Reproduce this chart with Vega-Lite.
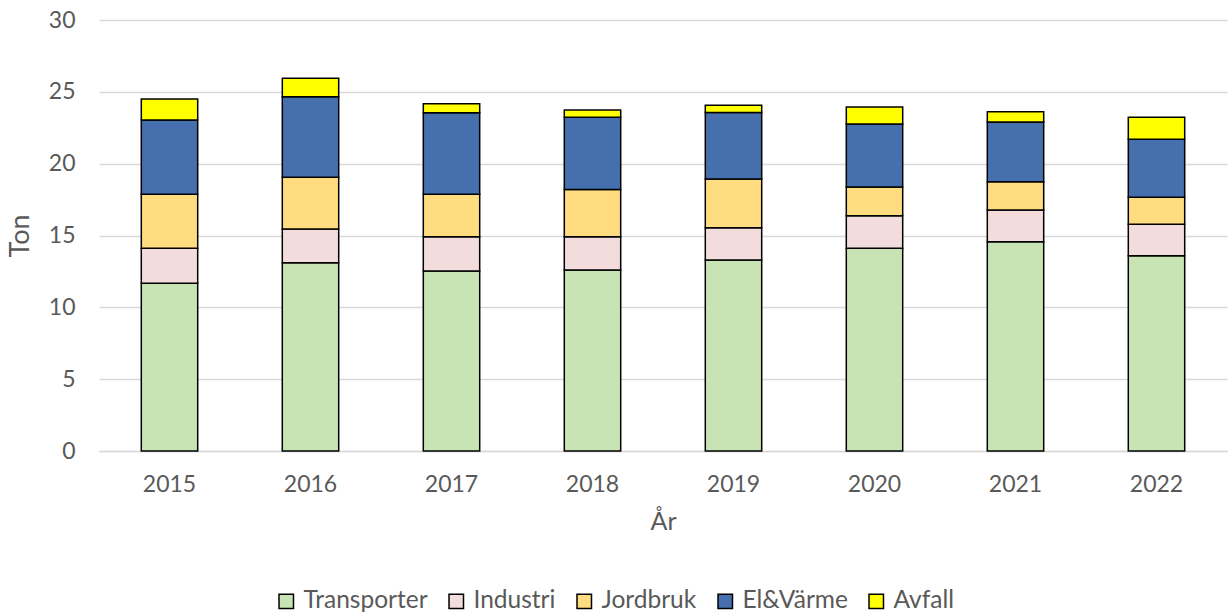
{
  "$schema": "https://vega.github.io/schema/vega-lite/v6.json",
  "width": 1128,
  "height": 431,
  "autosize": {"type": "none"},
  "padding": {"left": 99, "top": 20, "right": 1, "bottom": 163},
  "background": "white",
  "config": {
    "font": "Lato",
    "view": {"stroke": null}
  },
  "data": {
    "values": [
      {"year": "2015", "sector": "Transporter", "value": 11.67},
      {"year": "2015", "sector": "Industri", "value": 2.44},
      {"year": "2015", "sector": "Jordbruk", "value": 3.76},
      {"year": "2015", "sector": "El&Värme", "value": 5.17},
      {"year": "2015", "sector": "Avfall", "value": 1.46},
      {"year": "2016", "sector": "Transporter", "value": 13.11},
      {"year": "2016", "sector": "Industri", "value": 2.34},
      {"year": "2016", "sector": "Jordbruk", "value": 3.6},
      {"year": "2016", "sector": "El&Värme", "value": 5.61},
      {"year": "2016", "sector": "Avfall", "value": 1.28},
      {"year": "2017", "sector": "Transporter", "value": 12.53},
      {"year": "2017", "sector": "Industri", "value": 2.39},
      {"year": "2017", "sector": "Jordbruk", "value": 2.95},
      {"year": "2017", "sector": "El&Värme", "value": 5.68},
      {"year": "2017", "sector": "Avfall", "value": 0.62},
      {"year": "2018", "sector": "Transporter", "value": 12.6},
      {"year": "2018", "sector": "Industri", "value": 2.32},
      {"year": "2018", "sector": "Jordbruk", "value": 3.29},
      {"year": "2018", "sector": "El&Värme", "value": 5.02},
      {"year": "2018", "sector": "Avfall", "value": 0.51},
      {"year": "2019", "sector": "Transporter", "value": 13.29},
      {"year": "2019", "sector": "Industri", "value": 2.25},
      {"year": "2019", "sector": "Jordbruk", "value": 3.39},
      {"year": "2019", "sector": "El&Värme", "value": 4.64},
      {"year": "2019", "sector": "Avfall", "value": 0.49},
      {"year": "2020", "sector": "Transporter", "value": 14.11},
      {"year": "2020", "sector": "Industri", "value": 2.27},
      {"year": "2020", "sector": "Jordbruk", "value": 2.0},
      {"year": "2020", "sector": "El&Värme", "value": 4.38},
      {"year": "2020", "sector": "Avfall", "value": 1.18},
      {"year": "2021", "sector": "Transporter", "value": 14.57},
      {"year": "2021", "sector": "Industri", "value": 2.2},
      {"year": "2021", "sector": "Jordbruk", "value": 1.97},
      {"year": "2021", "sector": "El&Värme", "value": 4.16},
      {"year": "2021", "sector": "Avfall", "value": 0.72},
      {"year": "2022", "sector": "Transporter", "value": 13.59},
      {"year": "2022", "sector": "Industri", "value": 2.19},
      {"year": "2022", "sector": "Jordbruk", "value": 1.88},
      {"year": "2022", "sector": "El&Värme", "value": 4.04},
      {"year": "2022", "sector": "Avfall", "value": 1.53}
    ]
  },
  "transform": [
    {"calculate": "indexof(['Transporter','Industri','Jordbruk','El&Värme','Avfall'], datum.sector)", "as": "stackOrder"}
  ],
  "mark": {"type": "bar", "stroke": "black", "strokeWidth": 1.5},
  "encoding": {
    "x": {
      "field": "year",
      "type": "nominal",
      "scale": {"paddingInner": 0.6, "paddingOuter": 0.3},
      "axis": {
        "title": "År",
        "titleFontSize": 25,
        "titleFontWeight": "normal",
        "titleColor": "#595959",
        "titlePadding": 13,
        "labelAngle": 0,
        "labelFontSize": 23,
        "labelColor": "#595959",
        "labelPadding": 22,
        "ticks": false,
        "domainColor": "#d9d9d9",
        "domainWidth": 1.5
      }
    },
    "y": {
      "field": "value",
      "type": "quantitative",
      "stack": "zero",
      "scale": {"domain": [0, 30], "nice": false},
      "axis": {
        "title": "Ton",
        "titleFontSize": 27,
        "titleFontWeight": "normal",
        "titleColor": "#595959",
        "titlePadding": 14,
        "values": [0, 5, 10, 15, 20, 25, 30],
        "labelFontSize": 23,
        "labelColor": "#595959",
        "labelPadding": 24,
        "ticks": false,
        "domain": false,
        "gridColor": "#d9d9d9",
        "gridWidth": 1.5
      }
    },
    "color": {
      "field": "sector",
      "type": "nominal",
      "sort": ["Transporter", "Industri", "Jordbruk", "El&Värme", "Avfall"],
      "scale": {
        "domain": ["Transporter", "Industri", "Jordbruk", "El&Värme", "Avfall"],
        "range": ["#c9e4b4", "#f3dcdc", "#ffdc80", "#4670ad", "#ffff00"]
      },
      "legend": {
        "orient": "none",
        "legendX": 175,
        "legendY": 569,
        "direction": "horizontal",
        "title": null,
        "symbolType": "square",
        "symbolSize": 210,
        "symbolStrokeColor": "black",
        "symbolStrokeWidth": 1.5,
        "labelFontSize": 24.5,
        "labelColor": "#595959",
        "labelOffset": 5,
        "columnPadding": 16
      }
    },
    "order": {"field": "stackOrder", "type": "quantitative", "sort": "ascending"}
  }
}
